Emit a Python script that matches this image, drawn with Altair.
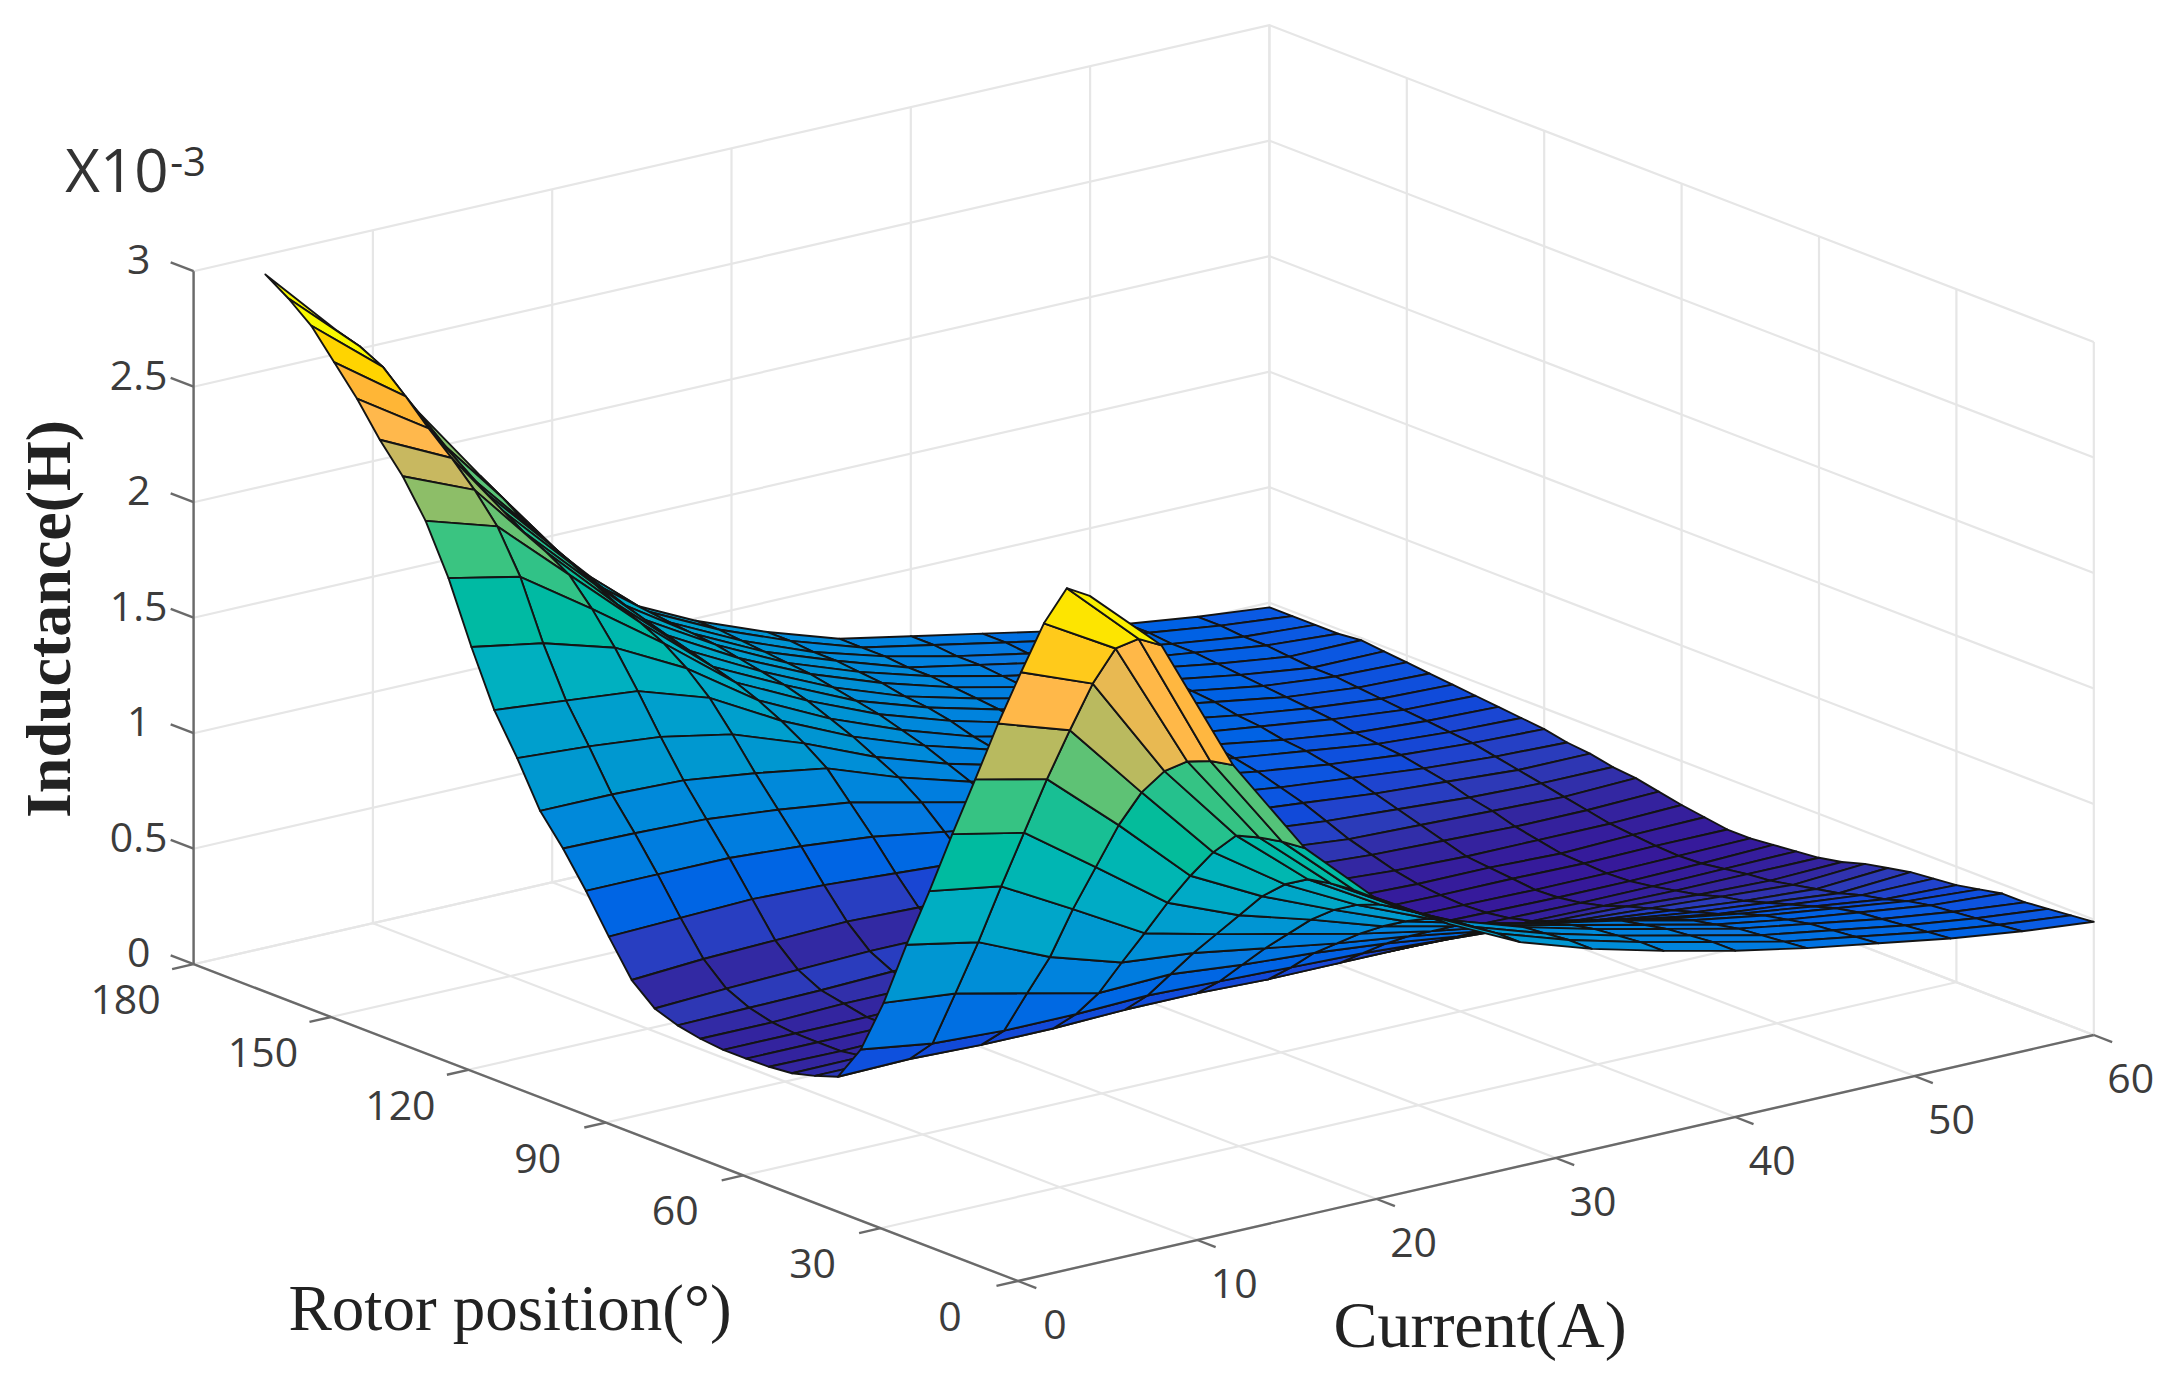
import altair as alt
import numpy as np

CURRENT = [4, 8, 12, 16, 20, 24, 28, 32, 36, 40, 44, 48, 52, 56, 60]
ROTOR = list(range(0, 185, 5))

L04 = [2.895,2.89,2.70,2.45,2.19,1.91,1.635,1.35,1.08,.79,.55,.394,.36,.333,.323,.32,.32,.33,.35,.385,.47,.62,.78,.925,1.05,1.24,1.41,1.645,1.905,2.115,2.27,2.39,2.53,2.65,2.77,2.85,2.915]
L08 = [2.61,2.60,2.52,2.33,2.09,1.84,1.57,1.30,1.02,.76,.505,.40,.36,.335,.32,.32,.32,.33,.355,.40,.49,.63,.78,.92,1.05,1.22,1.38,1.59,1.84,2.02,2.14,2.24,2.33,2.43,2.52,2.57,2.60]
L12 = [2.02,2.00,1.96,1.88,1.75,1.57,1.35,1.13,.885,.69,.49,.39,.36,.335,.325,.32,.32,.34,.36,.41,.50,.64,.78,.91,1.04,1.19,1.35,1.50,1.63,1.74,1.80,1.85,1.91,1.97,2.03,2.12,2.22]
L16 = [1.59,1.58,1.56,1.53,1.42,1.28,1.125,.955,.79,.62,.49,.39,.36,.335,.325,.32,.325,.34,.37,.42,.51,.63,.76,.88,1.00,1.13,1.25,1.34,1.41,1.46,1.50,1.55,1.60,1.65,1.70,1.77,1.83]
L20 = [1.30,1.30,1.29,1.27,1.21,1.12,1.00,.88,.76,.63,.50,.40,.355,.33,.32,.32,.325,.34,.37,.42,.50,.61,.73,.84,.95,1.02,1.08,1.13,1.17,1.20,1.23,1.26,1.29,1.32,1.36,1.40,1.45]
L24 = [1.12,1.12,1.11,1.09,1.05,.99,.91,.81,.71,.60,.49,.40,.35,.325,.315,.31,.32,.34,.37,.42,.49,.59,.68,.77,.84,.89,.94,.98,1.02,1.05,1.07,1.09,1.11,1.12,1.13,1.14,1.14]
L28 = [.97,.97,.96,.95,.92,.87,.81,.74,.66,.58,.48,.39,.34,.32,.305,.30,.31,.33,.36,.41,.47,.55,.63,.70,.75,.79,.83,.86,.89,.91,.93,.95,.96,.97,.98,.99,.99]
L32 = [.87,.87,.86,.85,.82,.79,.74,.68,.62,.55,.47,.39,.335,.31,.295,.29,.30,.32,.35,.39,.45,.51,.57,.63,.68,.71,.74,.76,.79,.81,.82,.84,.85,.86,.86,.87,.87]
L36 = [.79,.79,.78,.77,.75,.72,.68,.63,.57,.51,.45,.39,.33,.305,.29,.285,.29,.31,.34,.38,.42,.47,.52,.57,.61,.64,.67,.69,.71,.73,.74,.75,.76,.76,.77,.77,.77]
L40 = [.72,.72,.71,.70,.68,.66,.62,.58,.53,.48,.43,.38,.325,.30,.285,.28,.285,.30,.33,.36,.40,.44,.48,.52,.56,.58,.60,.62,.64,.66,.67,.68,.69,.70,.70,.71,.71]
L44 = [.66,.65,.64,.63,.61,.59,.56,.52,.48,.44,.40,.36,.32,.295,.28,.275,.28,.29,.31,.34,.37,.41,.45,.48,.51,.53,.55,.56,.58,.60,.61,.62,.63,.64,.64,.65,.65]
L48 = [.61,.60,.59,.58,.56,.54,.51,.47,.44,.41,.38,.35,.315,.29,.275,.27,.28,.29,.30,.33,.36,.39,.42,.45,.47,.49,.50,.52,.53,.55,.56,.57,.58,.58,.59,.59,.59]
L52 = [.56,.55,.54,.53,.52,.50,.47,.44,.41,.38,.36,.33,.31,.29,.275,.27,.275,.28,.30,.32,.35,.37,.40,.42,.44,.45,.46,.48,.49,.50,.51,.52,.53,.54,.54,.55,.55]
L56 = [.52,.51,.50,.49,.48,.46,.43,.41,.38,.36,.34,.32,.31,.295,.28,.275,.28,.29,.30,.32,.34,.36,.38,.40,.42,.43,.44,.45,.46,.47,.48,.48,.49,.50,.50,.51,.51]
L60 = [.49,.48,.47,.46,.46,.44,.42,.41,.40,.38,.36,.33,.31,.30,.29,.28,.28,.295,.31,.33,.35,.36,.38,.39,.41,.42,.43,.44,.45,.46,.47,.48,.49,.48,.48,.48,.48]
SURFACE = [L04, L08, L12, L16, L20, L24, L28, L32, L36, L40, L44, L48, L52, L56, L60]

Z_STOPS = [.27, .33, .38, .44, .50, .67, .93, 1.21, 1.49, 1.77, 1.90, 2.05, 2.25, 2.35, 2.57, 2.80]
COLORS = ["#36189a", "#33259f", "#2c3ab8", "#1248d8", "#0a5ce4", "#0a78e0", "#0098d0", "#00b0c0",
          "#00bc9c", "#3cc480", "#8cbe68", "#c8b860", "#ffb84c", "#ffb636", "#ffd400", "#f8f800"]
# colour level of the bands on the far flank, against the height of that band at the lowest current
BAND_Z = [.30, .37, .43, .55, .70, .85, .99, 1.15, 1.32, 1.53, 1.78, 2.0, 2.19, 2.33, 2.46, 2.59, 2.71, 2.81]
BAND_C = [.30, .31, .34, .40, .55, .70, .80, .93, 1.00, 1.21, 1.45, 1.75, 1.90, 2.05, 2.25, 2.35, 2.57, 2.80]

I_TICKS = [0, 10, 20, 30, 40, 50, 60]
R_TICKS = [0, 30, 60, 90, 120, 150, 180]
Z_TICKS = [0, 0.5, 1, 1.5, 2, 2.5, 3]


def project(i, r, z):
    """orthographic view of (current, rotor position, inductance) on the page"""
    return [1010 + 17.93 * i - 4.58 * r, 1273 - 4.1 * i - 1.76 * r - 231 * z]


def line(*points):
    return {"type": "Feature", "properties": {},
            "geometry": {"type": "LineString", "coordinates": [project(*p) for p in points]}}


quads = []
for a in range(len(CURRENT) - 1):
    for b in range(len(ROTOR) - 1):
        corners = [(a, b), (a + 1, b), (a + 1, b + 1), (a, b + 1), (a, b)]
        ring = [project(CURRENT[p], ROTOR[q], SURFACE[p][q]) for p, q in corners]
        level = sum(SURFACE[p][q] for p, q in corners[:4]) / 4
        if ROTOR[b] >= 95:
            band = float(np.interp((L04[b] + L04[b + 1]) / 2, BAND_Z, BAND_C))
            if a > 0:
                band = min(band, level - 0.1)
            w = min(1.0, max(0.0, (34 - CURRENT[a]) / 18))
            level = w * band + (1 - w) * level
        far = 4.1 * (CURRENT[a] + CURRENT[a + 1]) + 1.76 * (ROTOR[b] + ROTOR[b + 1])
        quads.append({"type": "Feature", "properties": {"c": level, "far": far},
                      "geometry": {"type": "Polygon", "coordinates": [ring]}})
quads.sort(key=lambda f: -f["properties"]["far"])

grid = []
for i in I_TICKS:
    grid.append(line((i, 0, 0), (i, 180, 0), (i, 180, 3)))
for r in R_TICKS:
    grid.append(line((0, r, 0), (60, r, 0), (60, r, 3)))
for z in Z_TICKS:
    grid.append(line((0, 180, z), (60, 180, z), (60, 0, z)))

axes = [line((0, 0, 0), (0, 180, 0)), line((0, 0, 0), (60, 0, 0)), line((0, 180, 0), (0, 180, 3))]
for i in I_TICKS:
    axes.append(line((i, 0, 0), (i, -4, 0)))
for r in R_TICKS:
    axes.append(line((0, r, 0), (-1.2, r, 0)))
for z in Z_TICKS:
    axes.append(line((0, 180, z), (0, 185, z)))

PROJ = dict(type="identity", scale=1, translate=[0, 0])


def pts(rows):
    return alt.Data(values=[{"lon": project(*p)[0], "lat": project(*p)[1], "t": t} for p, t in rows])


def tick_text(rows, dx, dy):
    return (alt.Chart(pts(rows))
            .mark_text(font="Open Sans", fontSize=41, color="#3c3c3c", dx=dx, dy=dy,
                       align="center", baseline="middle")
            .encode(longitude="lon:Q", latitude="lat:Q", text="t:N")
            .project(**PROJ))


def free_text(text, x, y, **kw):
    return (alt.Chart(alt.Data(values=[{"t": text}]))
            .mark_text(**kw)
            .encode(x=alt.value(x), y=alt.value(y), text="t:N"))


grid_layer = alt.Chart(alt.Data(values=grid)).mark_geoshape(
    filled=False, stroke="#e6e6e6", strokeWidth=2.2).project(**PROJ)
surface_layer = alt.Chart(alt.Data(values=quads)).mark_geoshape(
    stroke="#141414", strokeWidth=1.9, strokeJoin="round").encode(
    color=alt.Color("properties.c:Q", legend=None,
                    scale=alt.Scale(domain=Z_STOPS, range=COLORS, clamp=True))
).project(**PROJ)
axes_layer = alt.Chart(alt.Data(values=axes)).mark_geoshape(
    filled=False, stroke="#6a6a6a", strokeWidth=2.4).project(**PROJ)

chart = alt.layer(
    grid_layer, surface_layer, axes_layer,
    tick_text([((0, 180, z), f"{z:g}") for z in Z_TICKS], -55, -9),
    tick_text([((0, r, 0), str(r)) for r in R_TICKS], -68, 38),
    tick_text([((i, 0, 0), str(i)) for i in I_TICKS], 37, 46),
    free_text("X10", 117 - 8, 174 - 8, font="Open Sans", fontSize=60, color="#333333", align="center", baseline="middle"),
    free_text("-3", 188 - 8, 164 - 8, font="Open Sans", fontSize=40, color="#333333", align="center", baseline="middle"),
    free_text("Inductance(H)", 51 - 8, 619 - 8, font="Liberation Serif", fontSize=64, fontWeight="bold", color="#222222",
              angle=270, align="center", baseline="middle"),
    free_text("Rotor position(°)", 510 - 8, 1310 - 8, font="Liberation Serif", fontSize=65, color="#222222",
              align="center", baseline="middle"),
    free_text("Current(A)", 1480 - 8, 1327 - 8, font="Liberation Serif", fontSize=66, color="#222222",
              align="center", baseline="middle"),
).properties(width=2150, height=1358, padding=0, background="white",
             autosize=alt.AutoSizeParams(type="none")).configure_view(stroke=None)

chart.save("out.html", embed_options={"renderer": "svg", "actions": False})
